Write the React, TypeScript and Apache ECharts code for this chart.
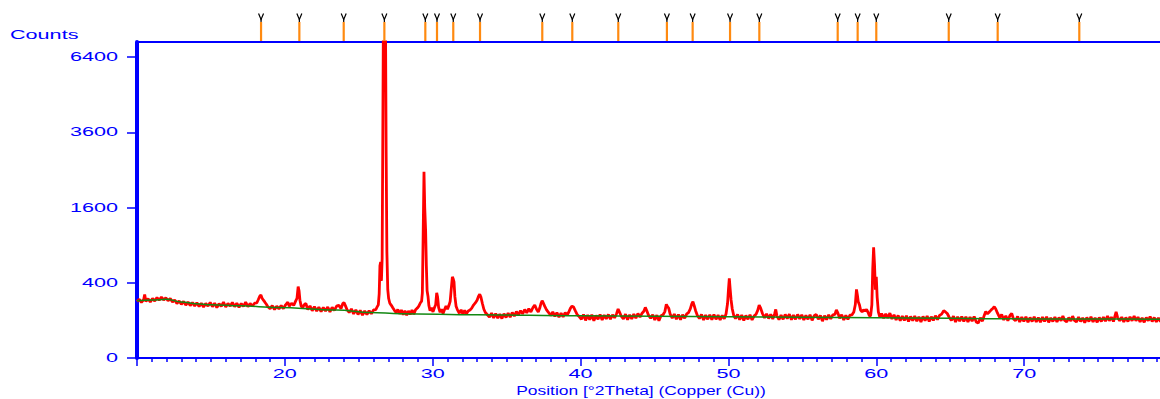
import React, { useEffect, useRef } from "react";
import * as echarts from "echarts";

// ---- axis ranges and tick values ----
const X_MIN = 10;
const X_MAX = 80;
const Y_MAX_SQRT = 84; // square-root intensity scale
const xTickLabels = [20, 30, 40, 50, 60, 70];
const yTickCounts = [0, 400, 1600, 3600, 6400];

// ---- reference pattern peak positions (°2Theta) ----
const referencePeaks = [
  18.39, 20.98, 23.98, 26.73, 29.5, 30.29, 31.39, 33.2, 37.41, 39.44, 42.55,
  45.84, 47.58, 50.11, 52.09, 57.39, 58.74, 60.0, 64.9, 68.21, 73.73,
];

// ---- fitted background (°2Theta, counts) ----
const background: [number, number][] = [
  [10, 232], [11, 238], [12, 243], [13, 222], [14, 208], [15, 200], [17, 192],
  [19.5, 181], [23.5, 163], [25.8, 147], [27.8, 139], [33, 132], [40, 126],
  [45, 123], [50, 120], [55, 117], [60, 114], [65, 111], [70, 108], [75, 107],
  [80, 106],
];

// ---- observed scan (°2Theta, counts) ----
const scan10to26: [number, number][] = [
  [10.0, 226], [10.15, 244], [10.3, 218], [10.45, 240], [10.52, 285], [10.6, 226],
  [10.75, 248], [10.9, 222], [11.05, 250], [11.2, 230], [11.35, 258], [11.5, 236],
  [11.65, 262], [11.8, 238], [11.95, 256], [12.1, 232], [12.25, 250], [12.4, 222],
  [12.55, 238], [12.7, 210], [12.85, 230], [13.0, 204], [13.15, 226], [13.3, 198],
  [13.45, 222], [13.6, 194], [13.75, 218], [13.9, 192], [14.05, 216], [14.2, 188],
  [14.35, 212], [14.5, 184], [14.65, 210], [14.8, 190], [14.95, 218], [15.1, 186],
  [15.25, 212], [15.4, 180], [15.55, 208], [15.7, 188], [15.85, 220], [16.0, 184],
  [16.15, 210], [16.3, 190], [16.45, 218], [16.6, 186], [16.75, 212], [16.9, 182],
  [17.05, 210], [17.2, 188], [17.35, 220], [17.5, 186], [17.65, 210], [17.8, 190],
  [17.95, 212], [18.1, 214], [18.2, 240], [18.3, 270], [18.38, 280], [18.46, 252],
  [18.55, 236], [18.65, 220], [18.75, 204], [18.85, 186], [19.0, 172], [19.15, 194],
  [19.3, 166], [19.45, 190], [19.6, 170], [19.75, 194], [19.9, 172], [20.05, 200],
  [20.2, 220], [20.3, 190], [20.45, 212], [20.6, 196], [20.72, 226], [20.82, 252],
  [20.9, 360], [20.96, 320], [21.02, 236], [21.1, 192], [21.2, 176], [21.3, 200],
  [21.42, 210], [21.55, 166], [21.7, 192], [21.85, 158], [22.0, 186], [22.15, 156],
  [22.3, 182], [22.45, 152], [22.6, 180], [22.75, 156], [22.9, 184], [23.05, 150],
  [23.2, 182], [23.35, 160], [23.5, 190], [23.65, 196], [23.8, 172], [23.92, 210],
  [24.0, 218], [24.1, 192], [24.2, 166], [24.35, 146], [24.5, 170], [24.65, 138],
  [24.8, 164], [24.95, 134], [25.1, 160], [25.25, 130], [25.4, 156], [25.55, 134],
  [25.7, 158], [25.85, 138], [26.0, 164], [26.15, 166], [26.25, 186],
];

const scan26to34: [number, number][] = [
  [26.32, 200], [26.38, 290], [26.43, 600], [26.48, 650], [26.53, 420], [26.58, 700],
  [26.63, 4000], [26.67, 9000], [26.8, 9000], [26.85, 3000], [26.9, 800], [26.96, 330],
  [27.02, 250], [27.1, 212], [27.2, 196], [27.3, 178], [27.4, 162], [27.52, 146],
  [27.64, 166], [27.76, 138], [27.88, 162], [28.0, 132], [28.12, 158], [28.24, 130],
  [28.36, 156], [28.48, 134], [28.6, 162], [28.72, 136], [28.84, 164], [28.96, 176],
  [29.06, 190], [29.16, 214], [29.25, 228], [29.3, 300], [29.35, 1000], [29.41, 2450],
  [29.46, 1600], [29.52, 1150], [29.57, 600], [29.62, 320], [29.68, 270], [29.74, 196],
  [29.82, 158], [29.92, 178], [30.02, 150], [30.12, 180], [30.2, 200], [30.27, 300],
  [30.33, 262], [30.4, 180], [30.5, 148], [30.6, 168], [30.7, 140], [30.8, 166],
  [30.9, 190], [31.0, 168], [31.1, 196], [31.18, 226], [31.26, 345], [31.33, 465],
  [31.39, 440], [31.44, 410], [31.5, 266], [31.58, 190], [31.68, 162], [31.8, 142],
  [31.92, 164], [32.04, 136], [32.16, 160], [32.28, 138], [32.4, 156], [32.52, 162],
  [32.64, 176], [32.76, 198], [32.88, 214], [33.0, 236], [33.1, 270], [33.18, 287],
  [33.26, 262], [33.36, 210], [33.46, 168], [33.56, 146], [33.7, 132], [33.84, 118],
  [33.98, 142],
];

const scan34to56: [number, number][] = [
  [34.12, 114], [34.26, 140], [34.4, 112], [34.54, 136], [34.68, 110], [34.82, 138],
  [34.96, 116], [35.1, 142], [35.24, 118], [35.38, 146], [35.52, 124], [35.66, 152],
  [35.8, 132], [35.94, 158], [36.08, 138], [36.22, 166], [36.36, 144], [36.5, 172],
  [36.64, 150], [36.78, 180], [36.9, 198], [37.02, 168], [37.14, 150], [37.24, 176],
  [37.32, 210], [37.4, 232], [37.48, 214], [37.58, 188], [37.7, 164], [37.84, 146],
  [37.98, 128], [38.12, 150], [38.26, 122], [38.4, 146], [38.54, 118], [38.68, 142],
  [38.82, 120], [38.96, 146], [39.1, 130], [39.22, 154], [39.32, 176], [39.42, 190],
  [39.52, 184], [39.64, 158], [39.78, 132], [39.92, 120], [40.06, 106], [40.2, 134],
  [40.34, 100], [40.48, 130], [40.62, 104], [40.76, 132], [40.9, 98], [41.04, 128],
  [41.18, 106], [41.32, 134], [41.46, 102], [41.6, 130], [41.74, 108], [41.88, 134],
  [42.02, 106], [42.16, 132], [42.3, 114], [42.44, 140], [42.54, 170], [42.64, 148],
  [42.76, 122], [42.9, 108], [43.04, 136], [43.18, 104], [43.32, 132], [43.46, 108],
  [43.6, 136], [43.74, 112], [43.88, 140], [44.02, 118], [44.16, 142], [44.28, 154],
  [44.38, 181], [44.48, 158], [44.6, 128], [44.74, 112], [44.88, 132], [45.02, 102],
  [45.16, 130], [45.3, 98], [45.44, 126], [45.58, 132], [45.7, 152], [45.8, 204],
  [45.88, 186], [45.96, 176], [46.06, 136], [46.2, 112], [46.34, 136], [46.48, 106],
  [46.62, 134], [46.76, 104], [46.9, 132], [47.04, 112], [47.18, 138], [47.3, 146],
  [47.42, 170], [47.52, 206], [47.6, 224], [47.68, 196], [47.78, 158], [47.9, 128],
  [48.04, 110], [48.18, 134], [48.32, 102], [48.46, 130], [48.6, 106], [48.74, 132],
  [48.88, 104], [49.02, 134], [49.16, 106], [49.3, 130], [49.44, 102], [49.58, 128],
  [49.72, 108], [49.84, 138], [49.94, 210], [50.0, 327], [50.06, 448], [50.12, 330],
  [50.18, 238], [50.26, 170], [50.36, 128], [50.48, 110], [50.62, 134], [50.76, 104],
  [50.9, 130], [51.04, 100], [51.18, 128], [51.32, 106], [51.46, 132], [51.6, 102],
  [51.74, 126], [51.86, 134], [51.98, 160], [52.08, 198], [52.18, 176], [52.3, 140],
  [52.44, 114], [52.58, 138], [52.72, 110], [52.86, 134], [53.0, 108], [53.12, 136],
  [53.2, 167], [53.28, 124], [53.42, 104], [53.56, 130], [53.7, 106], [53.84, 134],
  [53.98, 110], [54.12, 136], [54.26, 104], [54.4, 130], [54.54, 106], [54.68, 134],
  [54.82, 108], [54.96, 132], [55.1, 102], [55.24, 128], [55.38, 106], [55.52, 132],
  [55.66, 100], [55.8, 126], [55.94, 134], [56.08, 106],
];

const scan56to80: [number, number][] = [
  [56.22, 128], [56.36, 96], [56.5, 126], [56.64, 104], [56.78, 132], [56.92, 108],
  [57.06, 132], [57.2, 134], [57.3, 163], [57.4, 144], [57.52, 112], [57.66, 132],
  [57.8, 102], [57.94, 128], [58.08, 106], [58.22, 130], [58.36, 132], [58.48, 150],
  [58.58, 200], [58.66, 333], [58.72, 280], [58.78, 224], [58.86, 200], [58.94, 162],
  [59.04, 150], [59.14, 164], [59.24, 156], [59.34, 166], [59.44, 148], [59.54, 124],
  [59.62, 128], [59.7, 200], [59.76, 560], [59.82, 865], [59.88, 620], [59.94, 330],
  [60.0, 467], [60.06, 260], [60.14, 150], [60.24, 118], [60.36, 140], [60.5, 112],
  [60.64, 138], [60.78, 114], [60.92, 142], [61.06, 108], [61.2, 132], [61.34, 102],
  [61.48, 128], [61.62, 98], [61.76, 124], [61.9, 100], [62.04, 126], [62.18, 94],
  [62.32, 122], [62.46, 98], [62.6, 124], [62.74, 96], [62.88, 120], [63.02, 92],
  [63.16, 122], [63.3, 98], [63.44, 124], [63.58, 94], [63.72, 120], [63.86, 100],
  [64.0, 126], [64.14, 104], [64.28, 128], [64.42, 136], [64.56, 158], [64.68, 150],
  [64.8, 140], [64.94, 116], [65.08, 100], [65.22, 124], [65.36, 92], [65.5, 120],
  [65.64, 96], [65.78, 122], [65.92, 94], [66.06, 120], [66.2, 92], [66.34, 118],
  [66.48, 96], [66.62, 122], [66.76, 92], [66.9, 86], [67.04, 114], [67.18, 96],
  [67.3, 128], [67.4, 152], [67.52, 138], [67.64, 150], [67.76, 162], [67.88, 174],
  [67.98, 186], [68.08, 170], [68.2, 142], [68.34, 116], [68.48, 134], [68.62, 102],
  [68.76, 126], [68.9, 98], [69.04, 128], [69.16, 140], [69.28, 108], [69.42, 98],
  [69.56, 122], [69.7, 92], [69.84, 118], [69.98, 94], [70.12, 120], [70.26, 90],
  [70.4, 116], [70.54, 94], [70.68, 120], [70.82, 92], [70.96, 116], [71.1, 90],
  [71.24, 118], [71.38, 94], [71.52, 120], [71.66, 90], [71.8, 114], [71.94, 94],
  [72.08, 118], [72.22, 92], [72.36, 116], [72.5, 98], [72.62, 124], [72.74, 100],
  [72.88, 92], [73.02, 116], [73.16, 96], [73.28, 124], [73.4, 100], [73.54, 92],
  [73.68, 118], [73.82, 94], [73.96, 114], [74.1, 88], [74.24, 116], [74.38, 94],
  [74.52, 120], [74.66, 92], [74.8, 114], [74.94, 90], [75.08, 116], [75.22, 94],
  [75.36, 118], [75.5, 96], [75.64, 124], [75.76, 98], [75.9, 118], [76.04, 94],
  [76.14, 124], [76.22, 150], [76.32, 116], [76.46, 98], [76.6, 118], [76.74, 92],
  [76.88, 116], [77.02, 94], [77.16, 120], [77.3, 98], [77.44, 124], [77.56, 98],
  [77.7, 118], [77.84, 92], [77.98, 114], [78.12, 90], [78.26, 116], [78.4, 98],
  [78.52, 122], [78.66, 94], [78.8, 116], [78.94, 92], [79.08, 114], [79.22, 94],
  [79.4, 116], [79.6, 96], [79.8, 114], [80.0, 100],
];

const BLUE = "#0000ff";
const FONT = "Liberation Sans";
const TEXT_SCALE_X = 1.8;

const toSqrt = (pts: [number, number][]) =>
  pts.map(([t, c]) => [t, Math.sqrt(c)]);

export default function App() {
  const ref = useRef<HTMLDivElement>(null);

  useEffect(() => {
    if (!ref.current) return;
    const chart = echarts.init(ref.current, null, { renderer: "svg" });
    const observed = [...scan10to26, ...scan26to34, ...scan34to56, ...scan56to80];

    chart.setOption({
      animation: false,
      grid: { left: 137, right: 0, top: 42, bottom: 41, containLabel: false },
      xAxis: [
        {
          type: "value",
          min: X_MIN,
          max: X_MAX,
          interval: 10,
          axisLine: { show: true, onZero: false, lineStyle: { color: BLUE, width: 2 } },
          axisTick: { show: true, length: 8, lineStyle: { color: BLUE, width: 1.5 } },
          minorTick: { show: true, splitNumber: 10, length: 4, lineStyle: { color: BLUE, width: 1.5 } },
          axisLabel: { show: false },
          splitLine: { show: false },
        },
        {
          type: "value",
          position: "top",
          min: X_MIN,
          max: X_MAX,
          interval: 10,
          axisLine: { show: true, onZero: false, lineStyle: { color: BLUE, width: 2 } },
          axisTick: { show: false },
          axisLabel: { show: false },
          splitLine: { show: false },
        },
      ],
      yAxis: {
        type: "value",
        min: 0,
        max: Y_MAX_SQRT,
        interval: 20,
        axisLine: { show: true, onZero: false, lineStyle: { color: BLUE, width: 4 } },
        axisTick: {
          show: true,
          length: 10,
          customValues: yTickCounts.map((c) => Math.sqrt(c)),
          lineStyle: { color: BLUE, width: 1.5 },
        },
        axisLabel: { show: false },
        splitLine: { show: false },
      },
      series: [
        {
          type: "line",
          name: "Observed",
          data: toSqrt(observed),
          showSymbol: false,
          clip: true,
          lineStyle: { color: "#ff0000", width: 2.8 },
          z: 2,
        },
        {
          type: "line",
          name: "Background",
          data: toSqrt(background),
          showSymbol: false,
          smooth: 0.4,
          smoothMonotone: "x",
          clip: true,
          lineStyle: { color: "#138813", width: 1.5 },
          z: 3,
        },
        {
          type: "custom",
          name: "Reference",
          clip: false,
          data: referencePeaks.map((t) => [t, Y_MAX_SQRT]),
          renderItem: (_params: any, api: any) => {
            const p = api.coord([api.value(0), api.value(1)]);
            const x = p[0];
            const y = p[1];
            return {
              type: "group",
              children: [
                {
                  type: "line",
                  shape: { x1: x, y1: y - 1, x2: x, y2: y - 20 },
                  style: { stroke: "#ff8a10", lineWidth: 2.2 },
                },
                {
                  type: "line",
                  shape: { x1: x, y1: y - 20, x2: x, y2: y - 23 },
                  style: { stroke: "#000000", lineWidth: 1.2 },
                },
                {
                  type: "polyline",
                  shape: { points: [[x - 2.5, y - 28.5], [x, y - 22.5], [x + 2.5, y - 28.5]] },
                  style: { stroke: "#000000", lineWidth: 1.2, fill: "none" },
                },
              ],
            };
          },
          z: 4,
        },
      ],
    });

    const px = (v: number[]) =>
      chart.convertToPixel({ xAxisIndex: 0, yAxisIndex: 0 }, v) as number[];

    const graphics: any[] = [];
    yTickCounts.forEach((c) => {
      const p = px([X_MIN, Math.sqrt(c)]);
      graphics.push({
        type: "text",
        x: p[0] - 19,
        y: p[1],
        scaleX: TEXT_SCALE_X,
        style: {
          text: String(c),
          fill: BLUE,
          fontSize: 12,
          fontFamily: FONT,
          align: "right",
          verticalAlign: "middle",
        },
      });
    });
    xTickLabels.forEach((t) => {
      const p = px([t, 0]);
      graphics.push({
        type: "text",
        x: p[0],
        y: p[1] + 10,
        scaleX: TEXT_SCALE_X,
        style: {
          text: String(t),
          fill: BLUE,
          fontSize: 12,
          fontFamily: FONT,
          align: "center",
          verticalAlign: "top",
        },
      });
    });
    graphics.push({
      type: "text",
      x: 10,
      y: 35,
      scaleX: TEXT_SCALE_X,
      style: {
        text: "Counts",
        fill: BLUE,
        fontSize: 12,
        fontFamily: FONT,
        align: "left",
        verticalAlign: "middle",
      },
    });
    graphics.push({
      type: "text",
      x: 641,
      y: 391,
      scaleX: 1.45,
      style: {
        text: "Position [°2Theta] (Copper (Cu))",
        fill: BLUE,
        fontSize: 12,
        fontFamily: FONT,
        align: "center",
        verticalAlign: "middle",
      },
    });
    chart.setOption({ graphic: graphics });

    return () => chart.dispose();
  }, []);

  return (
    <div
      style={{
        position: "fixed",
        left: 0,
        top: 0,
        width: 1160,
        height: 399,
        overflow: "hidden",
        background: "#ffffff",
      }}
    >
      <div ref={ref} style={{ width: 1172, height: 399 }} />
    </div>
  );
}
